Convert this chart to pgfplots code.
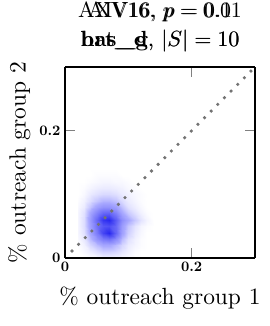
\documentclass[border=0pt]{standalone}
\usepackage{pgfplots}
\pgfplotsset{compat=1.18}
\usetikzlibrary{calc}
\newcommand{\tl}[1]{\scalebox{1.45}{\bfseries #1}}
\begin{document}
\begin{tikzpicture}
\begin{axis}[
  name=ax,
  at={(0,0)}, anchor=south west,
  width=190bp, height=191bp, scale only axis,
  xmin=0, xmax=0.3, ymin=0, ymax=0.3,
  view={0}{90},
  xtick={0,0.2}, ytick={0,0.2}, ztick=\empty,
  xticklabels={\tl{0},\tl{0.2}},
  yticklabels={\tl{0},\tl{0.2}},
  axis line style={black, line width=1.6bp},
  tick style={gray, line width=0.8bp},
  major tick length=10bp,
  tick align=inside,
  xticklabel style={yshift=-1bp},
  yticklabel style={xshift=-1bp},
  xlabel={\scalebox{2.35}{\% outreach group 1}},
  ylabel={\scalebox{2.35}{\% outreach group 2}},
  xlabel style={yshift=-8bp},
  ylabel style={yshift=2bp},
  colormap={wb}{rgb255(0cm)=(255,255,255) rgb255(1cm)=(170,170,255) rgb255(4cm)=(25,25,238)},
  point meta min=0, point meta max=1,
  clip=true,
]
\addplot3[surf, shader=interp, mesh/rows=15, mesh/cols=13] coordinates {
(0.02,0.00,0) (0.03,0.00,0) (0.04,0.00,0.01) (0.05,0.00,0.02) (0.06,0.00,0.04) (0.07,0.00,0.04) (0.08,0.00,0.03) (0.09,0.00,0.02) (0.10,0.00,0.01) (0.11,0.00,0) (0.12,0.00,0) (0.13,0.00,0) (0.14,0.00,0)
(0.02,0.01,0) (0.03,0.01,0.02) (0.04,0.01,0.05) (0.05,0.01,0.09) (0.06,0.01,0.13) (0.07,0.01,0.13) (0.08,0.01,0.11) (0.09,0.01,0.07) (0.10,0.01,0.04) (0.11,0.01,0.01) (0.12,0.01,0) (0.13,0.01,0) (0.14,0.01,0)
(0.02,0.02,0.01) (0.03,0.02,0.04) (0.04,0.02,0.12) (0.05,0.02,0.20) (0.06,0.02,0.27) (0.07,0.02,0.27) (0.08,0.02,0.20) (0.09,0.02,0.12) (0.10,0.02,0.06) (0.11,0.02,0.03) (0.12,0.02,0.01) (0.13,0.02,0) (0.14,0.02,0)
(0.02,0.03,0.02) (0.03,0.03,0.07) (0.04,0.03,0.20) (0.05,0.03,0.37) (0.06,0.03,0.50) (0.07,0.03,0.55) (0.08,0.03,0.40) (0.09,0.03,0.20) (0.10,0.03,0.09) (0.11,0.03,0.04) (0.12,0.03,0.01) (0.13,0.03,0) (0.14,0.03,0)
(0.02,0.04,0.03) (0.03,0.04,0.09) (0.04,0.04,0.27) (0.05,0.04,0.50) (0.06,0.04,0.78) (0.07,0.04,0.92) (0.08,0.04,0.60) (0.09,0.04,0.30) (0.10,0.04,0.14) (0.11,0.04,0.06) (0.12,0.04,0.02) (0.13,0.04,0) (0.14,0.04,0)
(0.02,0.05,0.03) (0.03,0.05,0.10) (0.04,0.05,0.30) (0.05,0.05,0.55) (0.06,0.05,0.68) (0.07,0.05,0.72) (0.08,0.05,0.58) (0.09,0.05,0.32) (0.10,0.05,0.17) (0.11,0.05,0.08) (0.12,0.05,0.03) (0.13,0.05,0.01) (0.14,0.05,0)
(0.02,0.06,0.03) (0.03,0.06,0.10) (0.04,0.06,0.32) (0.05,0.06,0.60) (0.06,0.06,0.85) (0.07,0.06,0.92) (0.08,0.06,0.65) (0.09,0.06,0.40) (0.10,0.06,0.27) (0.11,0.06,0.16) (0.12,0.06,0.08) (0.13,0.06,0.03) (0.14,0.06,0)
(0.02,0.07,0.03) (0.03,0.07,0.09) (0.04,0.07,0.27) (0.05,0.07,0.46) (0.06,0.07,0.60) (0.07,0.07,0.62) (0.08,0.07,0.46) (0.09,0.07,0.27) (0.10,0.07,0.16) (0.11,0.07,0.09) (0.12,0.07,0.04) (0.13,0.07,0.01) (0.14,0.07,0)
(0.02,0.08,0.02) (0.03,0.08,0.06) (0.04,0.08,0.17) (0.05,0.08,0.30) (0.06,0.08,0.37) (0.07,0.08,0.37) (0.08,0.08,0.30) (0.09,0.08,0.18) (0.10,0.08,0.09) (0.11,0.08,0.05) (0.12,0.08,0.02) (0.13,0.08,0) (0.14,0.08,0)
(0.02,0.09,0.01) (0.03,0.09,0.04) (0.04,0.09,0.10) (0.05,0.09,0.17) (0.06,0.09,0.22) (0.07,0.09,0.22) (0.08,0.09,0.18) (0.09,0.09,0.11) (0.10,0.09,0.06) (0.11,0.09,0.03) (0.12,0.09,0.01) (0.13,0.09,0) (0.14,0.09,0)
(0.02,0.10,0) (0.03,0.10,0.02) (0.04,0.10,0.06) (0.05,0.10,0.09) (0.06,0.10,0.11) (0.07,0.10,0.11) (0.08,0.10,0.09) (0.09,0.10,0.06) (0.10,0.10,0.04) (0.11,0.10,0.02) (0.12,0.10,0.01) (0.13,0.10,0) (0.14,0.10,0)
(0.02,0.11,0) (0.03,0.11,0.01) (0.04,0.11,0.03) (0.05,0.11,0.05) (0.06,0.11,0.06) (0.07,0.11,0.06) (0.08,0.11,0.05) (0.09,0.11,0.04) (0.10,0.11,0.02) (0.11,0.11,0.01) (0.12,0.11,0) (0.13,0.11,0) (0.14,0.11,0)
(0.02,0.12,0) (0.03,0.12,0) (0.04,0.12,0.01) (0.05,0.12,0.02) (0.06,0.12,0.03) (0.07,0.12,0.03) (0.08,0.12,0.02) (0.09,0.12,0.02) (0.10,0.12,0.01) (0.11,0.12,0) (0.12,0.12,0) (0.13,0.12,0) (0.14,0.12,0)
(0.02,0.13,0) (0.03,0.13,0) (0.04,0.13,0) (0.05,0.13,0.01) (0.06,0.13,0.01) (0.07,0.13,0.01) (0.08,0.13,0.01) (0.09,0.13,0) (0.10,0.13,0) (0.11,0.13,0) (0.12,0.13,0) (0.13,0.13,0) (0.14,0.13,0)
(0.02,0.14,0) (0.03,0.14,0) (0.04,0.14,0) (0.05,0.14,0) (0.06,0.14,0) (0.07,0.14,0) (0.08,0.14,0) (0.09,0.14,0) (0.10,0.14,0) (0.11,0.14,0) (0.12,0.14,0) (0.13,0.14,0) (0.14,0.14,0)
};
\addplot[color={rgb,255:red,115;green,115;blue,115}, line width=3.6bp, line cap=round, dash pattern=on 0pt off 9.4bp] coordinates {(0.011,0.011) (0.3,0.3)};
\end{axis}
\node[anchor=base] at ($(ax.north)+(0,49bp)$) {\scalebox{2.2}{AXV16, $p = 0.01$}};
\node[anchor=base] at ($(ax.north)+(0,49bp)$) {\scalebox{2.2}{AIV16, $p = 0.1$}};
\node[anchor=base] at ($(ax.north)+(0,20bp)$) {\scalebox{2.2}{\textbf{bas\_g}, $|S| = 10$}};
\node[anchor=base] at ($(ax.north)+(0,20bp)$) {\scalebox{2.2}{\textbf{hrt\_d}, $|S| = 10$}};
\pgfresetboundingbox
\path[use as bounding box] ($(ax.south west)+(-65bp,-68bp)$) rectangle ($(ax.north east)+(15bp,67bp)$);
\end{tikzpicture}
\end{document}
